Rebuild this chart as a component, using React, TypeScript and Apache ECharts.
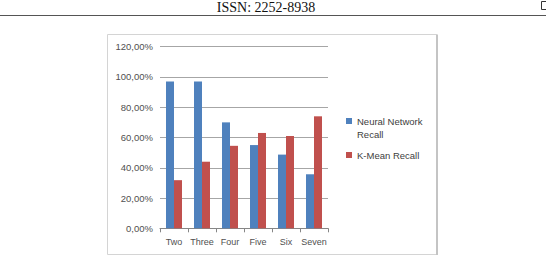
import React, { useEffect, useRef } from "react";
import * as echarts from "echarts";

const categories = ["Two", "Three", "Four", "Five", "Six", "Seven"];
const neuralNetworkRecall = [0.97, 0.97, 0.70, 0.55, 0.487, 0.357];
const kMeanRecall = [0.318, 0.44, 0.545, 0.63, 0.61, 0.74];
const seriesNames = ["Neural Network Recall", "K-Mean Recall"];
const headerText = "ISSN: 2252-8938";

const fmt = (v: number) => (v * 100).toFixed(2).replace(".", ",") + "%";

export default function App() {
  const ref = useRef<HTMLDivElement>(null);
  useEffect(() => {
    document.body.style.margin = "0";
    const chart = echarts.init(ref.current!, null, { renderer: "svg" });
    const font = "'Liberation Sans', Arial, sans-serif";
    chart.setOption({
      animation: false,
      backgroundColor: "#ffffff",
      textStyle: { fontFamily: font },
      grid: { left: 160, right: 218, top: 46.7, bottom: 28.7, containLabel: false },
      xAxis: {
        type: "category",
        data: categories,
        axisLine: { lineStyle: { color: "#868686", width: 1 } },
        axisTick: { show: true, length: 4, lineStyle: { color: "#868686" } },
        axisLabel: { color: "#505050", fontSize: 9, fontFamily: font, margin: 9, interval: 0 },
      },
      yAxis: {
        type: "value",
        min: 0,
        max: 1.2,
        interval: 0.2,
        axisLine: { show: false },
        axisTick: { show: false },
        splitLine: { lineStyle: { color: "#a6a6a6", width: 1 } },
        axisLabel: { color: "#505050", fontSize: 9.5, fontFamily: font, margin: 7, formatter: fmt },
      },
      legend: [
        {
          data: [seriesNames[0]],
          orient: "vertical",
          left: 346,
          top: 101.5,
          padding: 0,
          itemWidth: 6,
          itemHeight: 6,
          icon: "rect",
          formatter: () => "\nNeural Network\nRecall",
          textStyle: { color: "#404040", fontSize: 9.5, fontFamily: font, lineHeight: 13 },
        },
        {
          data: [seriesNames[1]],
          orient: "vertical",
          left: 346,
          top: 148.5,
          padding: 0,
          itemWidth: 6,
          itemHeight: 6,
          icon: "rect",
          textStyle: { color: "#404040", fontSize: 9.5, fontFamily: font, lineHeight: 13 },
        },
      ],
      series: [
        {
          name: seriesNames[0],
          type: "bar",
          data: neuralNetworkRecall,
          barWidth: 8,
          barGap: "0%",
          itemStyle: { color: "#4F81BD" },
        },
        {
          name: seriesNames[1],
          type: "bar",
          data: kMeanRecall,
          barWidth: 8,
          barGap: "0%",
          itemStyle: { color: "#C0504D" },
        },
      ],
      graphic: [
        {
          type: "text",
          x: 266,
          y: 7.5,
          style: {
            text: headerText,
            font: "14px 'Liberation Serif', 'Times New Roman', serif",
            fill: "#111111",
            textAlign: "center",
            textVerticalAlign: "middle",
          },
        },
        {
          type: "line",
          shape: { x1: 0, y1: 15.5, x2: 546, y2: 15.5 },
          style: { stroke: "#555555", lineWidth: 1 },
        },
        {
          type: "rect",
          shape: { x: 541.5, y: 1.5, width: 8, height: 8 },
          style: { fill: "none", stroke: "#333333", lineWidth: 1 },
        },
        {
          type: "rect",
          shape: { x: 107.5, y: 34.5, width: 329, height: 220 },
          style: { fill: "none", stroke: "#d4d4d4", lineWidth: 1 },
          z: -1,
        },
        {
          type: "line",
          shape: { x1: 437, y1: 34.5, x2: 437, y2: 255 },
          style: { stroke: "#c4c4c4", lineWidth: 2 },
        },
      ],
    });
    return () => chart.dispose();
  }, []);
  return <div ref={ref} style={{ width: 546, height: 257 }} />;
}
